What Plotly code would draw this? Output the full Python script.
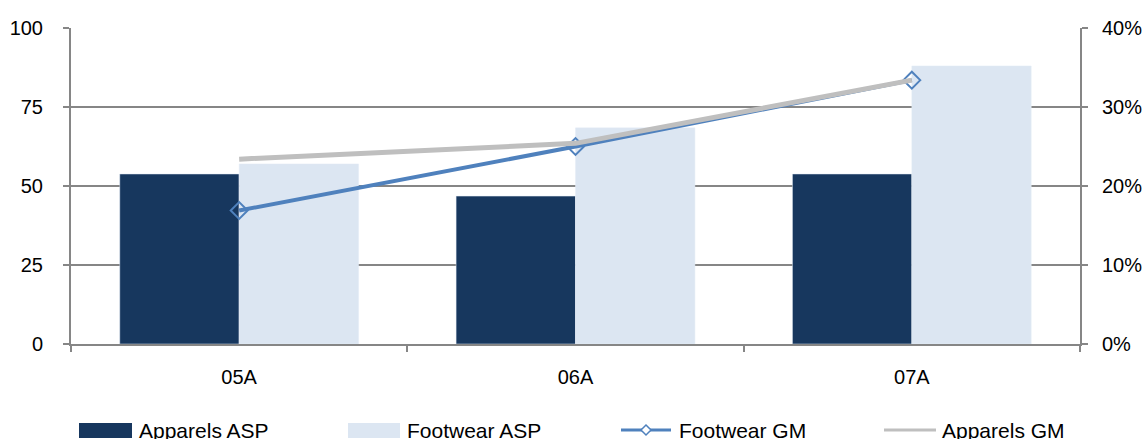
import plotly.graph_objects as go

categories = ["05A", "06A", "07A"]
apparels_asp = [53.8, 46.8, 53.8]
footwear_asp = [57.0, 68.4, 88.0]
footwear_gm = [0.169, 0.250, 0.334]
apparels_gm = [0.234, 0.254, 0.334]
series_names = ["Apparels ASP", "Footwear ASP", "Footwear GM", "Apparels GM"]

NAVY = "#17375E"
LIGHT = "#DCE6F2"
BLUE = "#4F81BD"
GRAY = "#BFBFBF"
AXIS = "#868686"
FONT = "Liberation Sans, Arial, sans-serif"

W, H = 1147, 439
L, R, T, B = 71, 67, 28, 95
PW, PH = W - L - R, H - T - B


def px(x):
    return (x - L) / PW


def py(y):
    return (H - B - y) / PH


fig = go.Figure()
fig.add_trace(go.Bar(x=categories, y=apparels_asp, name=series_names[0], marker_color=NAVY))
fig.add_trace(go.Bar(x=categories, y=footwear_asp, name=series_names[1], marker_color=LIGHT))
fig.add_trace(go.Scatter(x=categories, y=footwear_gm, name=series_names[2], yaxis="y2",
                         mode="lines+markers", line=dict(color=BLUE, width=4),
                         marker=dict(symbol="diamond-open", size=13, color=BLUE,
                                     line=dict(width=2, color=BLUE))))
fig.add_trace(go.Scatter(x=categories, y=apparels_gm, name=series_names[3], yaxis="y2",
                         mode="lines", line=dict(color=GRAY, width=5)))

# manual legend (layout decoration)
shapes = []
annotations = []
ly = 430
# Apparels ASP swatch
shapes.append(dict(type="rect", xref="paper", yref="paper", x0=px(79), x1=px(132),
                   y0=py(423), y1=py(438), fillcolor=NAVY, line=dict(width=0)))
# Footwear ASP swatch
shapes.append(dict(type="rect", xref="paper", yref="paper", x0=px(348), x1=px(400),
                   y0=py(423), y1=py(438), fillcolor=LIGHT, line=dict(width=0)))
# Footwear GM line + diamond
shapes.append(dict(type="line", xref="paper", yref="paper", x0=px(621), x1=px(671),
                   y0=py(ly), y1=py(ly), line=dict(color=BLUE, width=3)))
d = 5
shapes.append(dict(type="path", xref="paper", yref="paper",
                   path=f"M {px(646)},{py(ly - d)} L {px(646 + d)},{py(ly)} L {px(646)},{py(ly + d)} L {px(646 - d)},{py(ly)} Z",
                   fillcolor="white", line=dict(color=BLUE, width=1.5)))
# Apparels GM line
shapes.append(dict(type="line", xref="paper", yref="paper", x0=px(884), x1=px(936),
                   y0=py(ly), y1=py(ly), line=dict(color=GRAY, width=3)))

for name, x0 in zip(series_names, [137, 405, 677, 940]):
    annotations.append(dict(text=name, xref="paper", yref="paper", x=px(x0), y=py(ly),
                            xanchor="left", yanchor="middle", showarrow=False,
                            font=dict(size=21, color="black", family=FONT)))

fig.update_layout(
    width=W, height=H,
    margin=dict(l=L, r=R, t=T, b=B, autoexpand=False),
    paper_bgcolor="white", plot_bgcolor="white",
    font=dict(family=FONT, size=20, color="black"),
    showlegend=False,
    barmode="group", bargap=0.29, bargroupgap=0,
    xaxis=dict(type="category", showline=True, linecolor=AXIS, linewidth=2,
               ticks="outside", tickson="boundaries", ticklen=6, tickcolor=AXIS, tickwidth=2,
               showgrid=False, tickfont=dict(size=20), ticklabelstandoff=14),
    yaxis=dict(range=[0, 100], dtick=25, showgrid=True, gridcolor=AXIS, gridwidth=2,
               showline=True, linecolor=AXIS, linewidth=2, ticks="outside", ticklen=6,
               tickcolor=AXIS, tickwidth=2, zeroline=False, tickfont=dict(size=20),
               ticklabelstandoff=16),
    yaxis2=dict(range=[0, 0.4], dtick=0.1, tickformat=".0%", overlaying="y", side="right",
                showgrid=False, showline=True, linecolor=AXIS, linewidth=2, ticks="outside",
                ticklen=6, tickcolor=AXIS, tickwidth=2, zeroline=False, tickfont=dict(size=20),
                ticklabelstandoff=10),
    shapes=shapes,
    annotations=annotations,
)

fig.write_html("out.html")
